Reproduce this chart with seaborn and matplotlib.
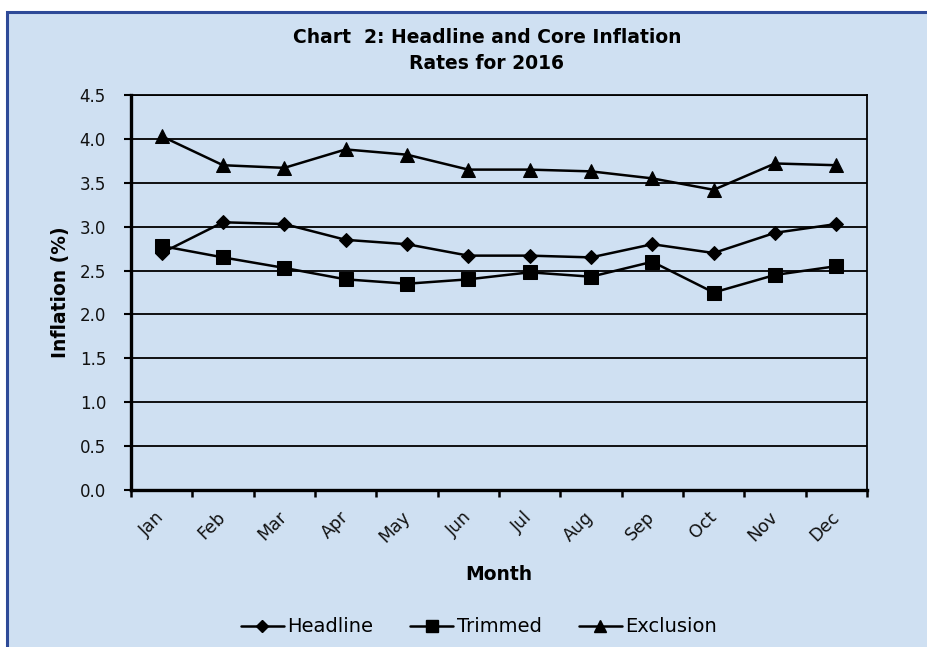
import matplotlib
matplotlib.use("Agg")
import matplotlib.pyplot as plt
from matplotlib.patches import Rectangle
from matplotlib.lines import Line2D
import numpy as np
import pandas as pd
import seaborn as sns

# data
months = ["Jan", "Feb", "Mar", "Apr", "May", "Jun",
          "Jul", "Aug", "Sep", "Oct", "Nov", "Dec"]
headline = [2.70, 3.05, 3.03, 2.85, 2.80, 2.67, 2.67, 2.65, 2.80, 2.70, 2.93, 3.03]
trimmed = [2.78, 2.65, 2.53, 2.40, 2.35, 2.40, 2.48, 2.43, 2.60, 2.25, 2.45, 2.55]
exclusion = [4.03, 3.70, 3.67, 3.88, 3.82, 3.65, 3.65, 3.63, 3.55, 3.42, 3.72, 3.70]
series_names = ["Headline", "Trimmed", "Exclusion"]
y_ticks = [0.0, 0.5, 1.0, 1.5, 2.0, 2.5, 3.0, 3.5, 4.0, 4.5]

bg = "#CFE0F2"
frame_col = "#2E4A98"

sns.set_theme(style="white")
plt.rcParams["font.family"] = ["DejaVu Sans"]
plt.rcParams["text.color"] = "black"

df = pd.DataFrame({
    "pos": list(range(len(months))) * 3,
    "value": headline + trimmed + exclusion,
    "series": [s for s in series_names for _ in months],
})

W, H = 928, 647
fig = plt.figure(figsize=(W / 100, H / 100), dpi=100, facecolor="white")

# light blue panel with a dark blue edge on top and left
fig.patches.append(Rectangle((7 / W, -0.01), 1.0, 1 - 12 / H + 0.01,
                             transform=fig.transFigure, facecolor=bg,
                             edgecolor=frame_col, linewidth=2.2, zorder=-10))

ax = fig.add_axes([131 / W, (H - 490) / H, (867 - 131) / W, (490 - 95) / H])
ax.set_facecolor(bg)

markers = {"Headline": "D", "Trimmed": "s", "Exclusion": "^"}
sizes = {"Headline": 7.5, "Trimmed": 10, "Exclusion": 9.5}
for name in series_names:
    sub = df[df["series"] == name]
    sns.lineplot(data=sub, x="pos", y="value", ax=ax, color="black",
                 marker=markers[name], markersize=sizes[name],
                 markeredgecolor="black", linewidth=1.8, sort=False,
                 legend=False, zorder=3)

ax.set_xlim(-0.5, len(months) - 0.5)
ax.set_ylim(0, 4.5)
ax.set_yticks(y_ticks)
ax.set_yticklabels([f"{v:.1f}" for v in y_ticks])
ax.grid(axis="y", color="black", linewidth=1.3)
ax.set_axisbelow(True)

# category labels in the middle, tick marks on the boundaries
ax.set_xticks(range(len(months)))
ax.set_xticklabels(months, rotation=45, ha="right", va="center",
                   rotation_mode="anchor")
ax.set_xticks(np.arange(-0.5, len(months)), minor=True)
ax.tick_params(axis="x", which="major", length=0, pad=17.5, labelsize=12.5,
               labelcolor="#111111")
ax.tick_params(axis="x", which="minor", bottom=True, length=5, width=1.8,
               color="black")
ax.tick_params(axis="y", left=True, length=5, width=1.5, pad=13,
               labelsize=12, color="black", labelcolor="#111111")

for side in ["left", "bottom"]:
    ax.spines[side].set_color("black")
    ax.spines[side].set_linewidth(2.4)
for side in ["top", "right"]:
    ax.spines[side].set_color("black")
    ax.spines[side].set_linewidth(1.3)

ax.set_xlabel("")
ax.set_ylabel("")
fig.text(499 / W, 1 - 575 / H, "Month", ha="center", va="center",
         fontsize=13.5, fontweight="bold")
fig.text(61 / W, 1 - 292 / H, "Inflation (%)", ha="center", va="center",
         rotation=90, fontsize=13.5, fontweight="bold")
fig.text(487 / W, 1 - 28 / H, "Chart  2: Headline and Core Inflation\nRates for 2016",
         ha="center", va="top", fontsize=13.5, fontweight="bold",
         linespacing=1.45)

handles = [Line2D([], [], color="black", linewidth=1.8, marker=markers[n],
                  markersize=sizes[n] * 0.85) for n in series_names]
fig.legend(handles, series_names, loc="center", bbox_to_anchor=(479 / W, 1 - 627 / H),
           ncol=3, frameon=False, fontsize=14, handlelength=2.2,
           handletextpad=0.2, columnspacing=1.9)

fig.savefig("out.png", dpi=100, facecolor="white")
